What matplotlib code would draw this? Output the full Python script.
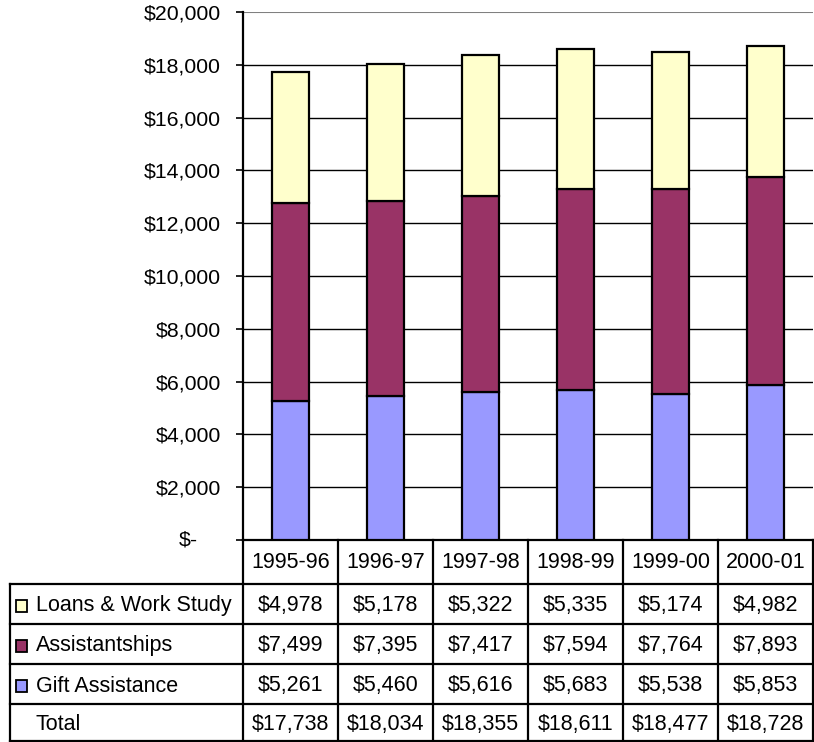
import matplotlib.pyplot as plt
from matplotlib.patches import Rectangle

plt.rcParams['font.family'] = ['Liberation Sans', 'DejaVu Sans']

years = ["1995-96", "1996-97", "1997-98", "1998-99", "1999-00", "2000-01"]
gift = [5261, 5460, 5616, 5683, 5538, 5853]
assist = [7499, 7395, 7417, 7594, 7764, 7893]
loans = [4978, 5178, 5322, 5335, 5174, 4982]
totals = [17738, 18034, 18355, 18611, 18477, 18728]
colors = {"Loans & Work Study": "#FFFFCC",
          "Assistantships": "#993366",
          "Gift Assistance": "#9999FF"}

W, H = 814, 742
fig = plt.figure(figsize=(W / 100, H / 100), dpi=100)

# plot area in pixels
left, right, top, bottom = 243, 813, 12, 540
ax = fig.add_axes([left / W, 1 - bottom / H, (right - left) / W, (bottom - top) / H])

x = range(len(years))
bw = 0.39
ax.bar(x, gift, bw, color=colors["Gift Assistance"], edgecolor="black", lw=1.6, zorder=3)
base = [g for g in gift]
ax.bar(x, assist, bw, bottom=base, color=colors["Assistantships"], edgecolor="black", lw=1.6, zorder=3)
base = [g + a for g, a in zip(gift, assist)]
ax.bar(x, loans, bw, bottom=base, color=colors["Loans & Work Study"], edgecolor="black", lw=1.6, zorder=3)

ax.set_xlim(-0.5, len(years) - 0.5)
ax.set_ylim(0, 20000)
ticks = list(range(0, 20001, 2000))
ax.set_yticks(ticks)
ax.set_yticklabels(["" if t == 0 else "${:,}".format(t) for t in ticks], fontsize=15.3)
ax.tick_params(axis="y", direction="out", length=5, width=1.2, pad=11)
ax.annotate("$-", xy=(0, 0), xycoords=("axes fraction", "data"), xytext=(-32.5, 0),
            textcoords="offset points", ha="right", va="center", fontsize=15.3)
ax.set_xticks([])
for t in ticks[1:-1]:
    ax.axhline(t, color="black", lw=1, zorder=1)
ax.axhline(20000, color="#808080", lw=1.5, zorder=1)
for s in ["top", "right"]:
    ax.spines[s].set_visible(False)
ax.spines["left"].set_linewidth(1.6)
ax.spines["bottom"].set_linewidth(1.6)

# data table below the plot
tab = fig.add_axes([left / W, 0, (right - left) / W, (H - bottom) / H])
tab.set_xlim(-0.5, len(years) - 0.5)
tab.set_ylim(H - bottom, 0)
tab.axis("off")
rows = [0, 44, 84, 124, 164, 201]
ppu = (right - left) / len(years)
x0 = -0.5 - (left - 10) / ppu
lw = 1.6
for i in range(len(years) + 1):
    tab.plot([i - 0.5, i - 0.5], [rows[0], rows[-1]], color="black", lw=lw, clip_on=False)
for r in rows[1:]:
    tab.plot([x0, len(years) - 0.5], [r, r], color="black", lw=lw, clip_on=False)
tab.plot([x0, x0], [rows[1], rows[-1]], color="black", lw=lw, clip_on=False)

fs = 15.5
for i, yr in enumerate(years):
    tab.text(i, (rows[0] + rows[1]) / 2 + 1, yr, ha="center", va="center", fontsize=fs)

table_rows = [("Loans & Work Study", loans), ("Assistantships", assist),
              ("Gift Assistance", gift), ("Total", totals)]
for k, (name, vals) in enumerate(table_rows):
    yc = (rows[k + 1] + rows[k + 2]) / 2 + 2
    for i, v in enumerate(vals):
        tab.text(i, yc, "${:,}".format(v), ha="center", va="center", fontsize=fs)
    if name in colors:
        tab.add_patch(Rectangle((x0 + 6 / ppu, yc - 6), 11 / ppu, 12, facecolor=colors[name],
                                edgecolor="black", lw=1.3, clip_on=False))
    tab.text(x0 + 26 / ppu, yc, name, ha="left", va="center", fontsize=fs)

fig.savefig("out.png", dpi=100)
